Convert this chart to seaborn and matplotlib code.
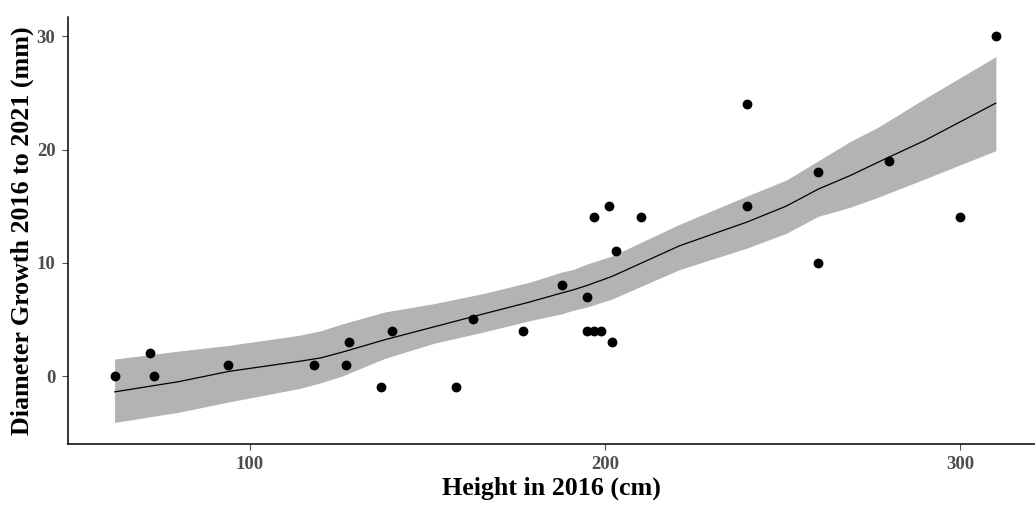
import matplotlib
matplotlib.use("Agg")
import matplotlib.pyplot as plt
import seaborn as sns
import pandas as pd

# Observed data
height_2016 = [62, 72, 73, 94, 118, 127, 128, 137, 140, 158, 163, 177, 188,
               195, 195, 197, 199, 197, 201, 202, 203, 210, 240, 240, 260, 260,
               280, 300, 310]
diam_growth = [0, 2, 0, 1, 1, 1, 3, -1, 4, -1, 5, 4, 8,
               7, 4, 4, 4, 14, 15, 3, 11, 14, 24, 15, 18, 10,
               19, 14, 30]

# Smoothed fit and confidence band
fit_x = [62, 80, 94, 114, 120, 126, 138, 152, 166, 179, 188, 191, 195, 202,
         221, 240, 251, 260, 269, 277, 290, 310]
fit_y = [-1.4, -0.5, 0.4, 1.3, 1.6, 2.1, 3.2, 4.35, 5.5, 6.55, 7.35, 7.6, 8.0,
         8.8, 11.5, 13.6, 15.0, 16.5, 17.7, 18.9, 20.8, 24.1]
fit_upper = [1.5, 2.2, 2.7, 3.6, 4.0, 4.6, 5.65, 6.4, 7.3, 8.3, 9.2, 9.4, 9.9,
             10.6, 13.4, 15.9, 17.3, 19.0, 20.7, 22.0, 24.5, 28.2]
fit_lower = [-4.1, -3.2, -2.3, -1.1, -0.6, 0.0, 1.55, 2.9, 3.9, 4.9, 5.5, 5.8,
             6.1, 6.8, 9.4, 11.3, 12.6, 14.1, 14.9, 15.8, 17.4, 19.9]

x_ticks = [100, 200, 300]
y_ticks = [0, 10, 20, 30]

pts = pd.DataFrame({"height": height_2016, "growth": diam_growth})
fit = pd.DataFrame({"x": fit_x, "y": fit_y, "lo": fit_lower, "hi": fit_upper})

sns.set_style("ticks")
plt.rcParams["font.family"] = ["Liberation Serif", "DejaVu Serif"]

fig = plt.figure(figsize=(10.35, 5.07), dpi=100)
ax = fig.add_axes([0.0657, 0.1243, 0.9343, 0.8422])

ax.fill_between(fit["x"], fit["lo"], fit["hi"], color="#b3b3b3", linewidth=0, zorder=1)
sns.lineplot(data=fit, x="x", y="y", color="black", linewidth=0.9, ax=ax, zorder=2)
sns.scatterplot(data=pts, x="height", y="growth", color="black", s=50,
                edgecolor="black", linewidth=0, ax=ax, zorder=3)

ax.set_xlim(48.9, 321)
ax.set_ylim(-6.0, 31.7)
ax.set_xticks(x_ticks)
ax.set_yticks(y_ticks)
ax.set_xticklabels([str(t) for t in x_ticks])
ax.set_yticklabels([str(t) for t in y_ticks])

for s in ["top", "right"]:
    ax.spines[s].set_visible(False)
for s in ["left", "bottom"]:
    ax.spines[s].set_color("black")
    ax.spines[s].set_linewidth(1.1)

ax.tick_params(axis="both", length=4, width=0.8, color="#4d4d4d",
               labelsize=13.5, labelcolor="#4d4d4d", pad=5)
for lab in ax.get_xticklabels() + ax.get_yticklabels():
    lab.set_fontweight("bold")

ax.set_xlabel("Height in 2016 (cm)", fontsize=18.7, fontweight="bold", color="black", labelpad=2)
ax.set_ylabel("Diameter Growth 2016 to 2021 (mm)", fontsize=18.7, fontweight="bold",
              color="black", labelpad=2)

fig.savefig("out.png", dpi=100)
